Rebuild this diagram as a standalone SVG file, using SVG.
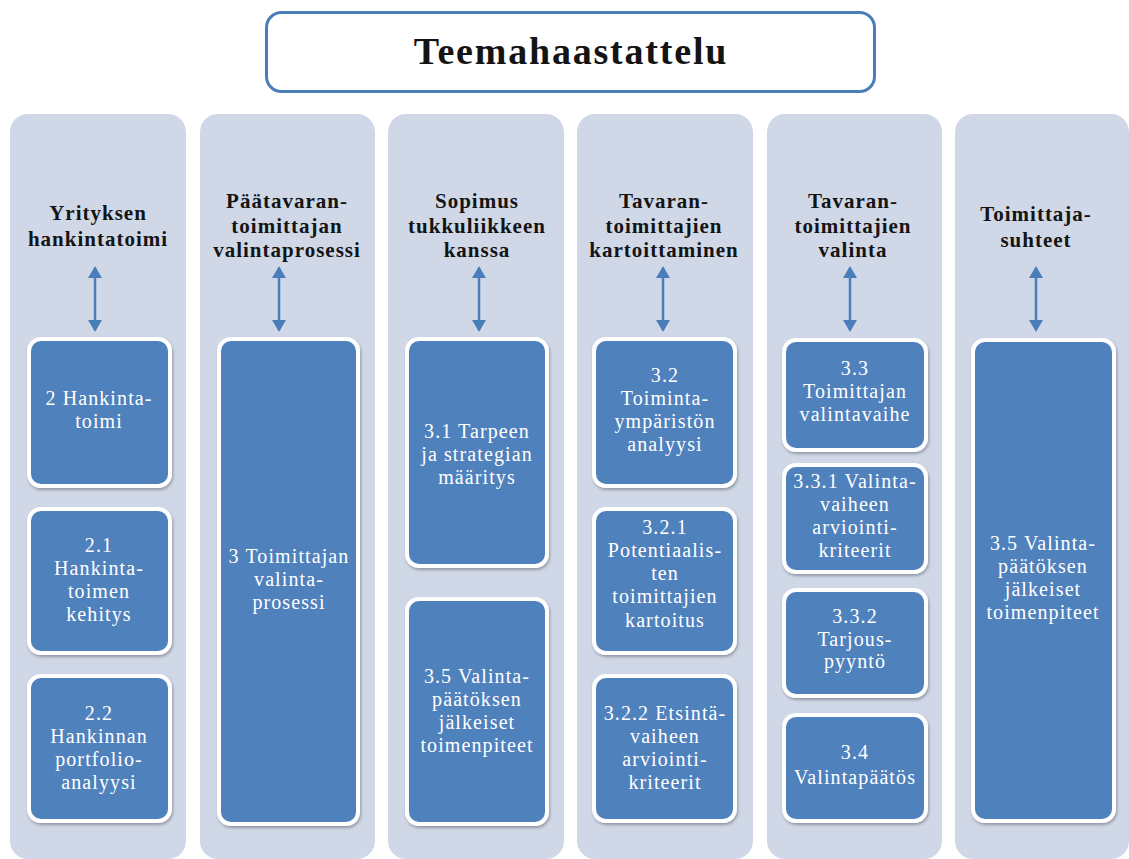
<svg xmlns="http://www.w3.org/2000/svg" width="1129" height="859" viewBox="0 0 1129 859">
  <style>
    .panel { fill: #d0d8e8; }
    .box { fill: #4f81bd; stroke: #ffffff; stroke-width: 4; filter: url(#shadow); }
    .head { font-family: "Liberation Serif", "Times New Roman", serif; font-weight: bold; font-size: 21px; letter-spacing: 1px; fill: #141414; text-anchor: middle; }
    .lbl { font-family: "Liberation Serif", "Times New Roman", serif; font-size: 20px; letter-spacing: 1.1px; fill: #ffffff; text-anchor: middle; }
    .title { font-family: "Liberation Serif", "Times New Roman", serif; font-weight: bold; font-size: 38px; letter-spacing: 1.8px; fill: #141414; text-anchor: middle; }
    .link { stroke: #4a7ebb; stroke-width: 2.5; fill: none; marker-start: url(#head); marker-end: url(#head); }
  </style>
  <defs>
    <filter id="shadow" x="-10%" y="-10%" width="125%" height="125%">
      <feDropShadow dx="1" dy="2" stdDeviation="1.5" flood-color="#000000" flood-opacity="0.3"/>
    </filter>
    <marker id="head" markerUnits="userSpaceOnUse" markerWidth="12" markerHeight="14" refX="10" refY="7" orient="auto-start-reverse">
      <path d="M0,0 L12,7 L0,14 z" fill="#4a7ebb"/>
    </marker>
  </defs>

  <rect width="1129" height="859" fill="#ffffff"/>

  <!-- title -->
  <g id="title">
    <rect x="266.5" y="12.5" width="608" height="79" rx="15" fill="#ffffff" stroke="#4a7ebb" stroke-width="3"/>
    <text class="title" x="571" y="64">Teemahaastattelu</text>
  </g>

  <!-- column backgrounds with headings -->
  <g id="col-yritys">
    <rect class="panel" x="10" y="114" width="176" height="745" rx="18"/>
    <text class="head" x="98" y="220">Yrityksen</text>
    <text class="head" x="98" y="246">hankintatoimi</text>
  </g>
  <g id="col-paatavara">
    <rect class="panel" x="200" y="114" width="175" height="745" rx="18"/>
    <text class="head" x="287" y="208">Päätavaran-</text>
    <text class="head" x="287" y="233">toimittajan</text>
    <text class="head" x="287" y="257">valintaprosessi</text>
  </g>
  <g id="col-sopimus">
    <rect class="panel" x="388" y="114" width="176" height="745" rx="18"/>
    <text class="head" x="477" y="208">Sopimus</text>
    <text class="head" x="477" y="233">tukkuliikkeen</text>
    <text class="head" x="477" y="257">kanssa</text>
  </g>
  <g id="col-kartoitus">
    <rect class="panel" x="577" y="114" width="176" height="745" rx="18"/>
    <text class="head" x="664" y="208">Tavaran-</text>
    <text class="head" x="664" y="233">toimittajien</text>
    <text class="head" x="664" y="257">kartoittaminen</text>
  </g>
  <g id="col-valinta">
    <rect class="panel" x="767" y="114" width="175" height="745" rx="18"/>
    <text class="head" x="853" y="208">Tavaran-</text>
    <text class="head" x="853" y="233">toimittajien</text>
    <text class="head" x="853" y="257">valinta</text>
  </g>
  <g id="col-suhteet">
    <rect class="panel" x="955" y="114" width="174" height="745" rx="18"/>
    <text class="head" x="1036" y="221">Toimittaja-</text>
    <text class="head" x="1036" y="247">suhteet</text>
  </g>

  <!-- connectors -->
  <g id="connectors">
    <line class="link" x1="95" y1="268" x2="95" y2="330"/>
    <line class="link" x1="279" y1="268" x2="279" y2="330"/>
    <line class="link" x1="479" y1="268" x2="479" y2="330"/>
    <line class="link" x1="663" y1="268" x2="663" y2="330"/>
    <line class="link" x1="850" y1="268" x2="850" y2="330"/>
    <line class="link" x1="1036" y1="268" x2="1036" y2="330"/>
  </g>

  <!-- column 1 nodes -->
  <g id="n2">
    <rect class="box" x="29" y="339" width="141" height="147" rx="12"/>
    <text class="lbl" x="99" y="405">2 Hankinta-</text>
    <text class="lbl" x="99" y="428">toimi</text>
  </g>
  <g id="n2-1">
    <rect class="box" x="29" y="509" width="141" height="144" rx="12"/>
    <text class="lbl" x="99" y="552">2.1</text>
    <text class="lbl" x="99" y="575">Hankinta-</text>
    <text class="lbl" x="99" y="598">toimen</text>
    <text class="lbl" x="99" y="621">kehitys</text>
  </g>
  <g id="n2-2">
    <rect class="box" x="29" y="676" width="141" height="145" rx="12"/>
    <text class="lbl" x="99" y="720">2.2</text>
    <text class="lbl" x="99" y="743">Hankinnan</text>
    <text class="lbl" x="99" y="766">portfolio-</text>
    <text class="lbl" x="99" y="789">analyysi</text>
  </g>

  <!-- column 2 node -->
  <g id="n3">
    <rect class="box" x="219" y="339" width="139" height="485" rx="12"/>
    <text class="lbl" x="289" y="563">3 Toimittajan</text>
    <text class="lbl" x="289" y="586">valinta-</text>
    <text class="lbl" x="289" y="609">prosessi</text>
  </g>

  <!-- column 3 nodes -->
  <g id="n3-1">
    <rect class="box" x="407" y="339" width="140" height="227" rx="12"/>
    <text class="lbl" x="477" y="438">3.1 Tarpeen</text>
    <text class="lbl" x="477" y="461">ja strategian</text>
    <text class="lbl" x="477" y="484">määritys</text>
  </g>
  <g id="n3-5a">
    <rect class="box" x="407" y="599" width="140" height="225" rx="12"/>
    <text class="lbl" x="477" y="683">3.5 Valinta-</text>
    <text class="lbl" x="477" y="706">päätöksen</text>
    <text class="lbl" x="477" y="729">jälkeiset</text>
    <text class="lbl" x="477" y="752">toimenpiteet</text>
  </g>

  <!-- column 4 nodes -->
  <g id="n3-2">
    <rect class="box" x="594" y="339" width="141" height="147" rx="12"/>
    <text class="lbl" x="665" y="382">3.2</text>
    <text class="lbl" x="665" y="405">Toiminta-</text>
    <text class="lbl" x="665" y="428">ympäristön</text>
    <text class="lbl" x="665" y="451">analyysi</text>
  </g>
  <g id="n3-2-1">
    <rect class="box" x="594" y="509" width="141" height="144" rx="12"/>
    <text class="lbl" x="665" y="534">3.2.1</text>
    <text class="lbl" x="665" y="557">Potentiaalis-</text>
    <text class="lbl" x="665" y="580">ten</text>
    <text class="lbl" x="665" y="603">toimittajien</text>
    <text class="lbl" x="665" y="627">kartoitus</text>
  </g>
  <g id="n3-2-2">
    <rect class="box" x="594" y="676" width="141" height="145" rx="12"/>
    <text class="lbl" x="665" y="720">3.2.2 Etsintä-</text>
    <text class="lbl" x="665" y="743">vaiheen</text>
    <text class="lbl" x="665" y="766">arviointi-</text>
    <text class="lbl" x="665" y="789">kriteerit</text>
  </g>

  <!-- column 5 nodes -->
  <g id="n3-3">
    <rect class="box" x="784" y="340" width="142" height="110" rx="12"/>
    <text class="lbl" x="855" y="375">3.3</text>
    <text class="lbl" x="855" y="398">Toimittajan</text>
    <text class="lbl" x="855" y="421">valintavaihe</text>
  </g>
  <g id="n3-3-1">
    <rect class="box" x="784" y="465" width="142" height="107" rx="12"/>
    <text class="lbl" x="855" y="488">3.3.1 Valinta-</text>
    <text class="lbl" x="855" y="511">vaiheen</text>
    <text class="lbl" x="855" y="534">arviointi-</text>
    <text class="lbl" x="855" y="557">kriteerit</text>
  </g>
  <g id="n3-3-2">
    <rect class="box" x="784" y="590" width="142" height="106" rx="12"/>
    <text class="lbl" x="855" y="623">3.3.2</text>
    <text class="lbl" x="855" y="646">Tarjous-</text>
    <text class="lbl" x="855" y="668">pyyntö</text>
  </g>
  <g id="n3-4">
    <rect class="box" x="784" y="715" width="142" height="106" rx="12"/>
    <text class="lbl" x="855" y="759">3.4</text>
    <text class="lbl" x="855" y="784">Valintapäätös</text>
  </g>

  <!-- column 6 node -->
  <g id="n3-5b">
    <rect class="box" x="973" y="340" width="141" height="481" rx="12"/>
    <text class="lbl" x="1043" y="550">3.5 Valinta-</text>
    <text class="lbl" x="1043" y="573">päätöksen</text>
    <text class="lbl" x="1043" y="596">jälkeiset</text>
    <text class="lbl" x="1043" y="619">toimenpiteet</text>
  </g>
</svg>
